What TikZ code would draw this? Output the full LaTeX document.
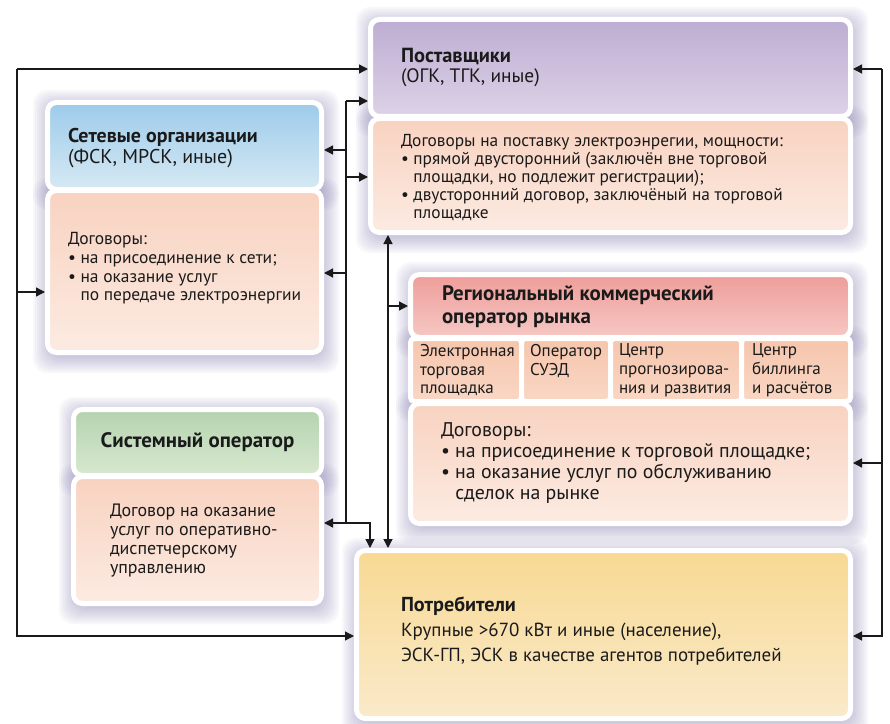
\documentclass[tikz,border=0pt]{standalone}
\usepackage{fontspec}
\setmainfont{PT Sans}
\usetikzlibrary{arrows.meta,fit,calc}
\definecolor{supTop}{HTML}{BDADD2}
\definecolor{supBot}{HTML}{DDD2E7}
\definecolor{pchTop}{HTML}{F8D2C0}
\definecolor{pchBot}{HTML}{FCEBE2}
\definecolor{netTop}{HTML}{9DCBEA}
\definecolor{netBot}{HTML}{D6E9F4}
\definecolor{soTop}{HTML}{B4D3AF}
\definecolor{soBot}{HTML}{D7E8CF}
\definecolor{regTop}{HTML}{EE9D99}
\definecolor{regBot}{HTML}{F6C8C4}
\definecolor{celTop}{HTML}{F6C5AC}
\definecolor{celBot}{HTML}{F9D7C5}
\definecolor{conTop}{HTML}{F8D993}
\definecolor{conBot}{HTML}{FAEACB}
\definecolor{shad}{HTML}{7D74AC}
\definecolor{ink}{HTML}{1A1A1A}
\newcommand\pnl[6][9bp]{\node[panel, rounded corners=#1, top color=#5, bottom color=#6,
  fit={($(#3)+(-2.5,-2.5)$) ($(#4)+(2.5,2.5)$)}] (#2) {};}
\newcommand\shd[2]{\foreach \r in {1,3,...,17}{\fill[shad, opacity=0.05, rounded corners=14bp]
  ($(#1)+(-\r,-\r+2)$) rectangle ($(#2)+(\r+3,\r+6)$);}}
\newcommand\bul{\textbullet\ }
\newcommand\ind{\phantom{\textbullet\ }}
\begin{document}
\begin{tikzpicture}[x=1bp,y=-1bp,
  panel/.style={draw=white, line width=5bp, inner sep=0pt, outer sep=2.5bp},
  txt/.style={inner sep=0pt, outer sep=0pt, align=left, text=ink, anchor=north west},
  arr/.style={draw=ink, line width=1.3bp, -{Triangle[length=9bp,width=9bp]}},
  dbl/.style={draw=ink, line width=1.3bp, {Triangle[length=9bp,width=9bp]}-{Triangle[length=9bp,width=9bp]}},
  ln/.style={draw=ink, line width=1.3bp}]
\fill[white] (0,0) rectangle (890,724);
\useasboundingbox (0,0) rectangle (890,724);
% shadows
\shd{373,22}{848,114}
\shd{373,121}{848,230}
\shd{50,105}{319,187}
\shd{50,193}{319,350}
\shd{76,412}{319,473}
\shd{76,479}{319,601}
\shd{413,277}{848,335}
\shd{413,341}{848,399}
\shd{413,406}{848,521}
\shd{359,553}{848,716}
% panels
\pnl{sup}{373,22}{848,114}{supTop}{supBot}
\pnl{supc}{373,121}{848,230}{pchTop}{pchBot}
\pnl{neth}{50,105}{319,187}{netTop}{netBot}
\pnl{netc}{50,193}{319,350}{pchTop}{pchBot}
\pnl{soh}{76,412}{319,473}{soTop}{soBot}
\pnl{soc}{76,479}{319,601}{pchTop}{pchBot}
\pnl{regh}{413,277}{848,335}{regTop}{regBot}
\pnl[4bp]{cel1}{413,341}{519,399}{celTop}{celBot}
\pnl[4bp]{cel2}{524,341}{608,399}{celTop}{celBot}
\pnl[4bp]{cel3}{613,341}{739,399}{celTop}{celBot}
\pnl[4bp]{cel4}{744,341}{848,399}{celTop}{celBot}
\pnl{regc}{413,406}{848,521}{pchTop}{pchBot}
\pnl{cons}{359,553}{848,716}{conTop}{conBot}
% texts
\node[txt, font=\fontsize{19.5}{20}\selectfont] (tsup) at (401,48) {{\fontsize{20.5}{20}\selectfont\bfseries Поставщики}\\(ОГК, ТГК, иные)};
\node[txt, font=\fontsize{17.4}{18.2}\selectfont] (tsupc) at (401,134) {Договоры на поставку электроэнрегии, мощности:\\\bul прямой двусторонний (заключён вне торговой\\\ind площадки, но подлежит регистрации);\\\bul двусторонний договор, заключёный на торговой\\\ind площадке};
\node[txt, font=\fontsize{20}{21}\selectfont] (tnet) at (68,128) {\textbf{Сетевые организации}\\(ФСК, МРСК, иные)};
\node[txt, font=\fontsize{17.5}{19}\selectfont] (tnetc) at (68,232) {Договоры:\\\bul на присоединение к сети;\\\bul на оказание услуг\\\ind по передаче электроэнергии};
\node[inner sep=0pt, text=ink, font=\fontsize{21}{22}\selectfont\bfseries] (tso) at (soh.center) {Системный оператор};
\node[txt, font=\fontsize{18}{19}\selectfont] (tsoc) at (110,504) {Договор на оказание\\услуг по оперативно-\\диспетчерскому\\управлению};
\node[txt, font=\fontsize{21}{23}\selectfont\bfseries] (treg) at (442,286) {Региональный коммерческий\\оператор рынка};
\node[txt, font=\fontsize{17.1}{19}\selectfont] (tc1) at (420,344) {Электронная\\торговая\\площадка};
\node[txt, font=\fontsize{17.1}{19}\selectfont] (tc2) at (530,344) {Оператор\\СУЭД};
\node[txt, font=\fontsize{17.1}{19}\selectfont] (tc3) at (619,344) {Центр\\прогнозирова-\\ния и развития};
\node[txt, font=\fontsize{17.1}{19}\selectfont] (tc4) at (752,344) {Центр\\биллинга\\и расчётов};
\node[txt, font=\fontsize{19.9}{21}\selectfont] (tregc) at (441,423) {Договоры:\\\bul на присоединение к торговой площадке;\\\bul на оказание услуг по обслуживанию\\\ind сделок на рынке};
\node[txt, font=\fontsize{19}{25}\selectfont] (tcons) at (401,597) {{\fontsize{20.3}{25}\selectfont\bfseries Потребители}\\Крупные >670 кВт и иные (население),\\ЭСК-ГП, ЭСК в качестве агентов потребителей};
% connector coordinates
\coordinate (L1) at (17,69);
\coordinate (L3) at (17,292);
\coordinate (L2) at (17,636);
\coordinate (j0) at (346,101);
\coordinate (j1) at (346,150);
\coordinate (j2) at (346,177);
\coordinate (j3) at (346,273);
\coordinate (j4) at (346,523);
\coordinate (k1) at (370,523);
\coordinate (v2) at (388,306);
\coordinate (R1) at (882,69);
\coordinate (R3) at (882,463);
\coordinate (R2) at (882,636);
% connectors
\draw[arr] (L1) -- (sup.west |- L1);
\draw[arr] (L1) -- (L2) -- (cons.west |- L2);
\draw[arr] (L3) -- (netc.west |- L3);
\draw[ln] (j0) -- (j4);
\draw[arr] (j0) -- (sup.west |- j0);
\draw[arr] (j1) -- (neth.east |- j1);
\draw[arr] (j2) -- (supc.west |- j2);
\draw[arr] (j3) -- (netc.east |- j3);
\draw[arr] (j4) -- (soc.east |- j4);
\draw[arr] (j4) -- (k1) -- (cons.north -| k1);
\draw[dbl] (supc.south -| v2) -- (cons.north -| v2);
\draw[arr] (v2) -- (regh.west |- v2);
\draw[arr] (R1) -- (sup.east |- R1);
\draw[arr] (R1) -- (R2) -- (cons.east |- R2);
\draw[arr] (R3) -- (regc.east |- R3);
\end{tikzpicture}
\end{document}
